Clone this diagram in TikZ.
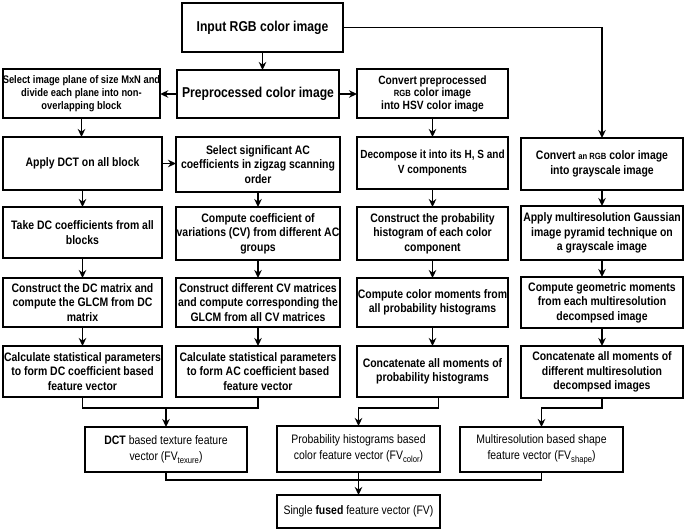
\documentclass[tikz,border=0pt]{standalone}
\usepackage{fontspec}
\setmainfont{Liberation Sans}[FakeStretch=0.85]
\usetikzlibrary{arrows.meta}
\newcommand\sbt[1]{\raisebox{-0.45ex}{\fontsize{9}{9}\selectfont #1}}
\newcommand\smallrgb[1]{{\fontsize{9}{9}\selectfont #1}}
\tikzset{
  bx/.style={draw, line width=1.6pt, inner sep=0pt, outer sep=0pt, align=center,
    font={\fontsize{12.3}{14.5}\selectfont\bfseries}},
  fvbox/.style={font={\fontsize{12.3}{16}\selectfont}},
  arr/.style={line width=1.6pt, -{Stealth[length=8pt,width=7.5pt]}},
  ln/.style={line width=1.6pt},
}
\newcommand\mybox[7][]{\node[bx,minimum width={(#5-#3)*1pt},minimum height={(#6-#4)*1pt},#1] (#2) at ({(#3+#5)/2},{(#4+#6)/2}) {#7};}
\begin{document}
\begin{tikzpicture}[x=1pt,y=-1pt]
\fill[white] (0,0) rectangle (685,530);
\useasboundingbox (0,0) rectangle (685,530);
% top
\mybox[font={\fontsize{14.3}{16}\selectfont\bfseries}, line width=2.4pt]{input}{182}{3}{343}{52}{Input RGB color image}
\mybox[font={\fontsize{11}{13}\selectfont\bfseries}]{sel}{3}{69}{160}{118}{Select image plane of size MxN and\\divide each plane into non-\\overlapping block}
\mybox[font={\fontsize{14.3}{16}\selectfont\bfseries}]{prep}{177}{70}{339}{118}{Preprocessed color image}
\mybox[font={\fontsize{12}{12.5}\selectfont\bfseries}]{convp}{357}{69}{508}{118}{Convert preprocessed\\\smallrgb{RGB} color image\\into HSV color image}
% row 2
\mybox{dct}{3}{137}{162}{190}{Apply DCT on all block}
\mybox{selac}{176}{137}{340}{192}{Select significant AC\\coefficients in zigzag scanning\\order}
\mybox[font={\fontsize{11.8}{14.5}\selectfont\bfseries}]{decomp}{357}{137}{508}{189}{Decompose it into its H, S and\\V components}
\mybox{cvrgb}{521}{138}{683}{190}{Convert \smallrgb{an RGB} color image\\into grayscale image}
% row 3
\mybox{takedc}{3}{207}{162}{258}{Take DC coefficients from all\\blocks}
\mybox{ccv}{176}{207}{340}{260}{Compute coefficient of\\variations (CV) from different AC\\groups}
\mybox{cph}{357}{207}{508}{260}{Construct the probability\\histogram of each color\\component}
\mybox{amr}{521}{206}{683}{260}{Apply multiresolution Gaussian\\image pyramid technique on\\a grayscale image}
% row 4
\mybox{cdm}{3}{278}{162}{327}{Construct the DC matrix and\\compute the GLCM from DC\\matrix}
\mybox{cdcv}{176}{278}{340}{327}{Construct different CV matrices\\and compute corresponding the\\GLCM from all CV matrices}
\mybox{ccm}{357}{278}{508}{327}{Compute color moments from\\all probability histograms}
\mybox{cgm}{521}{277}{683}{328}{Compute geometric moments\\from each multiresolution\\decompsed image}
% row 5
\mybox{calcdc}{3}{346}{162}{397}{Calculate statistical parameters\\to form DC coefficient based\\feature vector}
\mybox{calcac}{176}{346}{340}{397}{Calculate statistical parameters\\to form AC coefficient based\\feature vector}
\mybox{concp}{357}{346}{508}{397}{Concatenate all moments of\\probability histograms}
\mybox{concm}{521}{346}{683}{398}{Concatenate all moments of\\different multiresolution\\decompsed images}
% bottom
\mybox[fvbox]{dctfv}{85}{427}{247}{472}{\textbf{DCT} based texture feature\\vector (FV\sbt{texure})}
\mybox[fvbox]{probfv}{277}{426}{440}{472}{Probability histograms based\\color feature vector (FV\sbt{color})}
\mybox[fvbox]{mfv}{460}{427}{623}{472}{Multiresolution based shape\\feature vector (FV\sbt{shape})}
\mybox[fvbox]{final}{277}{495}{440}{528}{Single \textbf{fused} feature vector (FV)}
% connectors
\draw[arr] (input.south) -- (input.south |- prep.north);
\draw[arr] (prep.west) -- (prep.west -| sel.east);
\draw[arr] (prep.east) -- (prep.east -| convp.west);
\draw[arr] (dct.east) -- (dct.east -| selac.west);
\draw[arr] (input.east) -| (cvrgb.north);
\foreach \a/\b in {sel/dct,dct/takedc,takedc/cdm,cdm/calcdc,selac/ccv,ccv/cdcv,cdcv/calcac,convp/decomp,decomp/cph,cph/ccm,ccm/concp,cvrgb/amr,amr/cgm,cgm/concm}
  \draw[arr] (\a.south) -- (\a.south |- \b.north);
\coordinate (j1) at (166,408);
\draw[ln] (calcdc.south) |- (j1) -| (calcac.south);
\draw[arr] (j1) -- (j1 |- dctfv.north);
\coordinate (j3) at (358.5,408);
\draw[arr] ([xshift=6pt]concp.south) |- (j3) -- (j3 |- probfv.north);
\coordinate (j4) at (541.5,408);
\draw[arr] (concm.south) |- (j4) -- (j4 |- mfv.north);
\coordinate (j5) at (358.5,480);
\draw[ln] (dctfv.south) |- (j5) -| (mfv.south);
\draw[arr] (probfv.south) -- (final.north);
\end{tikzpicture}
\end{document}
